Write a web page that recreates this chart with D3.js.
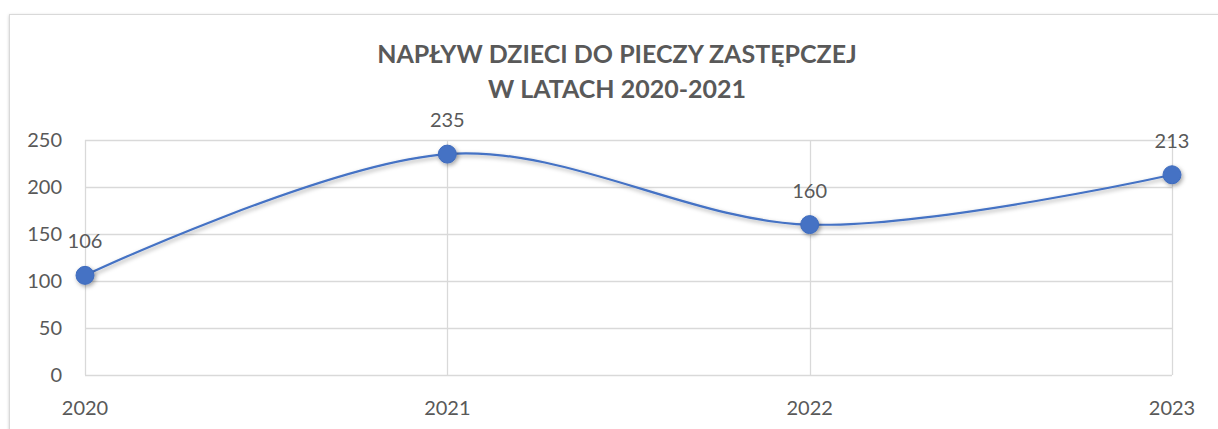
<!DOCTYPE html>
<html>
<head>
<meta charset="utf-8">
<script src="https://cdn.jsdelivr.net/npm/d3@7"></script>
<style>
  body { margin: 0; background: #fff; }
  text { font-family: Lato, "Open Sans", sans-serif; fill: #595959; }
</style>
</head>
<body>
<div id="chart"></div>
<script>
// chart data
var years = ["2020", "2021", "2022", "2023"];
var values = [106, 235, 160, 213];
var yTicks = [0, 50, 100, 150, 200, 250];
var titleLines = ["NAPŁYW DZIECI DO PIECZY ZASTĘPCZEJ", "W LATACH 2020-2021"];

var width = 1218, height = 429;
var margin = {top: 140, right: 46, bottom: 54, left: 85};

var svg = d3.select("#chart")
  .append("svg")
    .attr("width", width)
    .attr("height", height);

var defs = svg.append("defs");
var sh = defs.append("filter").attr("id", "shadow")
  .attr("x", "-50%").attr("y", "-50%").attr("width", "200%").attr("height", "200%");
sh.append("feDropShadow").attr("dx", 1.5).attr("dy", 2).attr("stdDeviation", 2)
  .attr("flood-color", "#000").attr("flood-opacity", 0.35);
var bs = defs.append("filter").attr("id", "boxshadow")
  .attr("x", "-5%").attr("y", "-5%").attr("width", "110%").attr("height", "110%");
bs.append("feDropShadow").attr("dx", 0).attr("dy", 1).attr("stdDeviation", 1.5)
  .attr("flood-color", "#000").attr("flood-opacity", 0.2);

// outer chart frame (cut off at right and bottom)
svg.append("rect")
  .attr("x", 9.5).attr("y", 14.5)
  .attr("width", width + 20).attr("height", height + 20)
  .attr("fill", "#fff")
  .attr("stroke", "#d9d9d9")
  .attr("stroke-width", 1)
  .attr("filter", "url(#boxshadow)");

var x = d3.scalePoint()
  .domain(years)
  .range([margin.left, width - margin.right]);

var y = d3.scaleLinear()
  .domain([0, 250])
  .range([height - margin.bottom, margin.top]);

// horizontal gridlines
svg.append("g")
  .selectAll("line")
  .data(yTicks)
  .enter()
  .append("line")
    .attr("x1", x.range()[0])
    .attr("x2", x.range()[1])
    .attr("y1", d => Math.round(y(d)) + 0.5)
    .attr("y2", d => Math.round(y(d)) + 0.5)
    .attr("stroke", "#d9d9d9")
    .attr("stroke-width", 1.3);

// vertical gridlines
svg.append("g")
  .selectAll("line")
  .data(years)
  .enter()
  .append("line")
    .attr("x1", d => Math.round(x(d)) + 0.5)
    .attr("x2", d => Math.round(x(d)) + 0.5)
    .attr("y1", y(250))
    .attr("y2", y(0))
    .attr("stroke", "#d9d9d9")
    .attr("stroke-width", 1.3);

// y tick labels
svg.append("g")
  .selectAll("text")
  .data(yTicks)
  .enter()
  .append("text")
    .attr("x", 62)
    .attr("y", d => y(d) + 7)
    .attr("text-anchor", "end")
    .attr("font-size", "20px")
    .text(d => d);

// x tick labels
svg.append("g")
  .selectAll("text")
  .data(years)
  .enter()
  .append("text")
    .attr("x", d => x(d))
    .attr("y", 415)
    .attr("text-anchor", "middle")
    .attr("font-size", "20px")
    .text(d => d);

// title
svg.append("g")
  .selectAll("text")
  .data(titleLines)
  .enter()
  .append("text")
    .attr("x", 617)
    .attr("y", (d, i) => 63 + i * 35)
    .attr("text-anchor", "middle")
    .attr("font-size", "25px")
    .attr("font-weight", "bold")
    .text(d => d);

// smoothed line
var line = d3.line()
  .x((d, i) => x(years[i]))
  .y(d => y(d))
  .curve(d3.curveCatmullRom.alpha(0));

svg.append("path")
  .datum(values)
  .attr("d", line)
  .attr("fill", "none")
  .attr("stroke", "#4472C4")
  .attr("stroke-width", 2.2)
  .attr("filter", "url(#shadow)");

// markers
svg.append("g")
  .selectAll("circle")
  .data(values)
  .enter()
  .append("circle")
    .attr("cx", (d, i) => x(years[i]))
    .attr("cy", d => y(d))
    .attr("r", 9)
    .attr("fill", "#4472C4")
    .attr("stroke", "#3f6bbd")
    .attr("stroke-width", 1)
    .attr("filter", "url(#shadow)");

// data labels
svg.append("g")
  .selectAll("text")
  .data(values)
  .enter()
  .append("text")
    .attr("x", (d, i) => x(years[i]))
    .attr("y", d => y(d) - 27)
    .attr("text-anchor", "middle")
    .attr("font-size", "20px")
    .text(d => d);
</script>
</body>
</html>
